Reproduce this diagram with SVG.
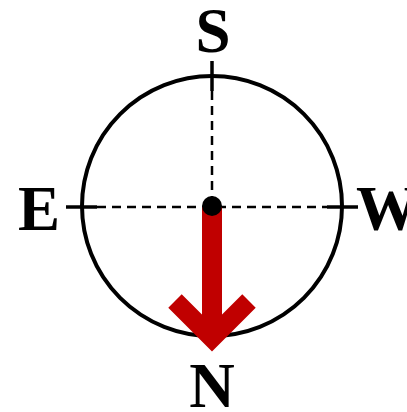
<svg xmlns="http://www.w3.org/2000/svg" width="407" height="412" viewBox="0 0 407 412">
<style>
.lbl{font-family:"Liberation Serif","Times New Roman",serif;font-weight:bold;font-size:63px;fill:#000}
.dash{stroke:#000;stroke-width:2.5;stroke-dasharray:9 6;fill:none}
.tick{stroke:#000;stroke-width:3.5;fill:none}
</style>
<rect width="407" height="412" fill="#fff"/>
<g id="compass">
<circle cx="212" cy="206" r="130" fill="none" stroke="#000" stroke-width="4"/>
</g>
<g id="connectors">
<line class="dash" x1="212" y1="91" x2="212" y2="206"/>
<line class="dash" x1="97" y1="207" x2="327" y2="207"/>
<line class="tick" x1="212" y1="61" x2="212" y2="91"/>
<line class="tick" x1="66" y1="207" x2="97" y2="207"/>
<line class="tick" x1="327" y1="207" x2="358" y2="207"/>
</g>
<g id="needle">
<path d="M212,207 V340" stroke="#c00000" stroke-width="20" fill="none"/>
<path d="M175,301 L212,338 L249,301" stroke="#c00000" stroke-width="19" stroke-linejoin="miter" stroke-miterlimit="4" fill="none"/>
<circle cx="212" cy="206" r="10" fill="#000"/>
</g>
<g id="label-S"><text class="lbl" x="213" y="52" text-anchor="middle">S</text></g>
<g id="label-E"><text class="lbl" x="18" y="230">E</text></g>
<g id="label-W"><text class="lbl" x="356" y="230">W</text></g>
<g id="label-N"><text class="lbl" x="212" y="407" text-anchor="middle">N</text></g>
</svg>
